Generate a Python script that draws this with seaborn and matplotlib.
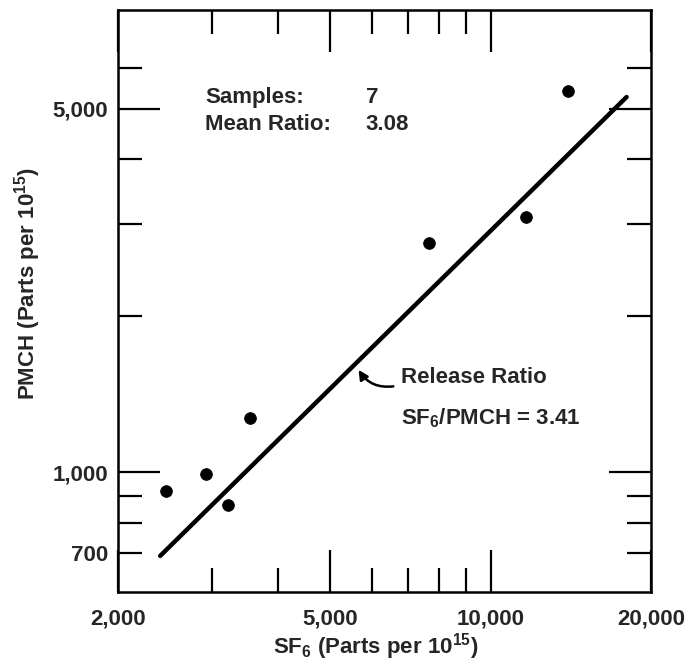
import matplotlib
matplotlib.use("Agg")
import matplotlib.pyplot as plt
import matplotlib.ticker as mticker
import numpy as np
import pandas as pd
import seaborn as sns

# measured tracer concentrations (parts per 10^15)
sf6 = [2460, 2930, 3220, 3530, 7660, 11660, 14000]
pmch = [918, 991, 865, 1269, 2755, 3092, 5420]

# release ratio line SF6/PMCH = 3.41
line_sf6 = [2400, 18000]
line_pmch = [690, 5270]

x_major = [2000, 5000, 10000, 20000]
x_minor = [3000, 4000, 6000, 7000, 8000, 9000]
y_major = [1000, 5000]
y_minor = [700, 800, 900, 2000, 3000, 4000, 6000]

n_samples = 7
mean_ratio = 3.08
release_ratio = 3.41

sns.set_style("ticks")
plt.rcParams['font.family'] = ['Liberation Sans', 'DejaVu Sans']
plt.rcParams['font.weight'] = 'bold'
plt.rcParams['mathtext.fontset'] = 'custom'
plt.rcParams['mathtext.rm'] = 'Liberation Sans:bold'
plt.rcParams['mathtext.it'] = 'Liberation Sans:bold'
plt.rcParams['mathtext.bf'] = 'Liberation Sans:bold'
plt.rcParams['mathtext.default'] = 'rm'

fig = plt.figure(figsize=(6.88, 6.69), dpi=100)
ax = fig.add_axes([0.1715, 0.1151, 0.7747, 0.870])

df = pd.DataFrame({"SF6": sf6, "PMCH": pmch})
line_df = pd.DataFrame({"SF6": line_sf6, "PMCH": line_pmch})

sns.lineplot(data=line_df, x="SF6", y="PMCH", color="black", linewidth=3.2, ax=ax)
sns.scatterplot(data=df, x="SF6", y="PMCH", color="black", s=70, edgecolor="black", ax=ax, zorder=3)

ax.set_xscale("log")
ax.set_yscale("log")
ax.set_xlim(2000, 20000)
ax.set_ylim(588, 7750)

fs = 16
ax.xaxis.set_major_locator(mticker.FixedLocator(x_major))
ax.xaxis.set_minor_locator(mticker.FixedLocator(x_minor))
ax.xaxis.set_major_formatter(mticker.FuncFormatter(lambda v, p: f"{int(v):,}"))
ax.xaxis.set_minor_formatter(mticker.NullFormatter())
ax.yaxis.set_major_locator(mticker.FixedLocator(y_major))
ax.yaxis.set_minor_locator(mticker.FixedLocator(y_minor))
ax.yaxis.set_major_formatter(mticker.FuncFormatter(lambda v, p: f"{int(v):,}"))
ax.yaxis.set_minor_formatter(mticker.FuncFormatter(lambda v, p: "700" if abs(v - 700) < 1 else ""))

ax.tick_params(which="both", direction="in", top=True, right=True, width=1.6,
               labelsize=fs, color="black")
ax.tick_params(axis="x", which="both", pad=12)
ax.tick_params(axis="y", which="both", pad=7)
ax.tick_params(which="major", length=30)
ax.tick_params(which="minor", length=17)
for lab in ax.get_xticklabels() + ax.get_yticklabels() + ax.get_yticklabels(minor=True):
    lab.set_fontweight("bold")

for s in ax.spines.values():
    s.set_linewidth(1.8)
    s.set_color("black")

ax.set_xlabel("SF$_6$ (Parts per 10$^{15}$)", fontsize=fs, fontweight="bold")
ax.set_ylabel("PMCH (Parts per 10$^{15}$)", fontsize=fs, fontweight="bold")
ax.xaxis.set_label_coords(0.484, -0.068)
ax.yaxis.set_label_coords(-0.14, 0.53)

ax.text(0.163, 0.85, "Samples:", transform=ax.transAxes, fontsize=fs, fontweight="bold", va="center")
ax.text(0.163, 0.803, "Mean Ratio:", transform=ax.transAxes, fontsize=fs, fontweight="bold", va="center")
ax.text(0.465, 0.85, f"{n_samples}", transform=ax.transAxes, fontsize=fs, fontweight="bold", va="center")
ax.text(0.465, 0.803, f"{mean_ratio:.2f}", transform=ax.transAxes, fontsize=fs, fontweight="bold", va="center")

ax.annotate("", xy=(5620, 1590), xytext=(6650, 1465),
            arrowprops=dict(arrowstyle="-|>", color="black", lw=1.8,
                            connectionstyle="arc3,rad=-0.35", mutation_scale=14))
ax.text(0.531, 0.368, "Release Ratio", transform=ax.transAxes, fontsize=fs, fontweight="bold", va="center")
ax.text(0.531, 0.298, f"SF$_6$/PMCH = {release_ratio:.2f}", transform=ax.transAxes,
        fontsize=fs, fontweight="bold", va="center")

fig.savefig("out.png", dpi=100)
